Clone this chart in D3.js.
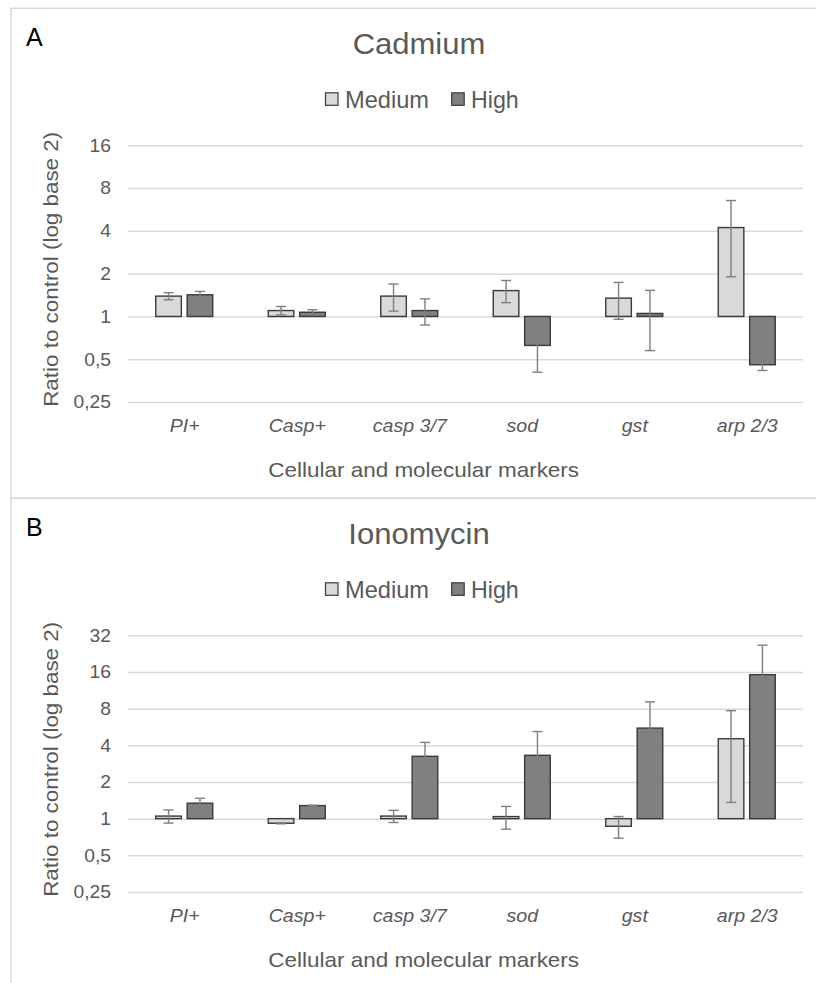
<!DOCTYPE html>
<html>
<head>
<meta charset="utf-8">
<script src="https://cdn.jsdelivr.net/npm/d3@7"></script>
<style>
  html, body { margin: 0; padding: 0; background: #fff; }
  svg { display: block; }
  text { font-family: "Liberation Sans", Arial, sans-serif; }
</style>
</head>
<body>
<svg id="chart" width="816" height="983"></svg>
<script>
// ---- data ----
const categories = ["PI+", "Casp+", "casp 3/7", "sod", "gst", "arp 2/3"];
const seriesNames = ["Medium", "High"];

const cadmiumMedium    = [1.39, 1.10, 1.39, 1.52, 1.345, 4.22];
const cadmiumMediumErr = [0.08, 0.075, 0.30, 0.27, 0.39, 2.32];
const cadmiumHigh      = [1.42, 1.07, 1.10, 0.625, 1.05, 0.457];
const cadmiumHighErr   = [0.08, 0.045, 0.23, 0.22, 0.475, 0.04];

const ionomycinMedium    = [1.05, 0.917, 1.05, 1.04, 0.866, 4.53];
const ionomycinMediumErr = [0.13, 0.01, 0.12, 0.22, 0.175, 3.17];
const ionomycinHigh      = [1.34, 1.28, 3.25, 3.31, 5.54, 15.2];
const ionomycinHighErr   = [0.13, 0.01, 0.975, 1.88, 3.56, 11.35];

const cadmiumTicks   = [0.25, 0.5, 1, 2, 4, 8, 16];
const ionomycinTicks = [0.25, 0.5, 1, 2, 4, 8, 16, 32];

const panels = [
  { letter: "A", title: "Cadmium", med: cadmiumMedium, medErr: cadmiumMediumErr,
    high: cadmiumHigh, highErr: cadmiumHighErr, ticks: cadmiumTicks },
  { letter: "B", title: "Ionomycin", med: ionomycinMedium, medErr: ionomycinMediumErr,
    high: ionomycinHigh, highErr: ionomycinHighErr, ticks: ionomycinTicks }
];

// ---- layout ----
const svg = d3.select("#chart");
const panelH = 490;
const panelTop = 8.3;
const plotLeft = 128, plotRight = 803;
const plotTopRel = 137, plotBotRel = 393.7;
const textGrey = "#595959";
const fills = { Medium: "#d9d9d9", High: "#808080" };

function fmtTick(v) { return String(v).replace(".", ","); }

function addText(g, x, y, str, o) {
  const t = g.append("text")
    .attr("x", 0).attr("y", 0)
    .attr("font-size", o.size)
    .attr("fill", o.color || textGrey)
    .attr("text-anchor", o.anchor || "start")
    .text(str);
  if (o.italic) t.attr("font-style", "italic");
  if (o.len) t.attr("textLength", o.len).attr("lengthAdjust", "spacingAndGlyphs");
  let tr = `translate(${x},${y})`;
  if (o.rotate) tr += ` rotate(${o.rotate})`;
  if (o.sx) tr += ` scale(${o.sx},1)`;
  t.attr("transform", tr);
  return t;
}

panels.forEach((p, i) => {
  const top = panelTop + i * panelH;
  const g = svg.append("g");

  // panel frame
  g.append("rect")
    .attr("x", 11).attr("y", top)
    .attr("width", 820).attr("height", panelH)
    .attr("fill", "none").attr("stroke", "#d9d9d9").attr("stroke-width", 1.5);

  const y = d3.scaleLog().base(2)
    .domain([p.ticks[0], p.ticks[p.ticks.length - 1]])
    .range([top + plotBotRel, top + plotTopRel]);
  const x0 = d3.scaleBand().domain(categories).range([plotLeft, plotRight]);
  const bw = x0.bandwidth();
  const x1 = d3.scaleBand().domain(seriesNames)
    .range([bw / 2 - 28.5, bw / 2 + 28.5]).paddingInner(0.185);

  // gridlines via axis
  const yAxis = d3.axisLeft(y).tickValues(p.ticks)
    .tickSize(-(plotRight - plotLeft)).tickFormat("");
  const ga = g.append("g").attr("transform", `translate(${plotLeft},0)`).call(yAxis);
  ga.select(".domain").remove();
  ga.selectAll(".tick line").attr("stroke", "#d9d9d9").attr("stroke-width", 1.5);

  // tick labels
  p.ticks.forEach(v => {
    addText(g, 111, y(v) + 6.3, fmtTick(v), { size: 17.5, anchor: "end", sx: 1.1 });
  });

  const seriesData = [
    { name: "Medium", vals: p.med, errs: p.medErr },
    { name: "High", vals: p.high, errs: p.highErr }
  ];
  // bars (from the axis crossing at 1)
  seriesData.forEach(s => {
    const gs = g.append("g");
    s.vals.forEach((v, k) => {
      const bx = x0(categories[k]) + x1(s.name);
      const y1 = y(1), yv = y(v);
      gs.append("rect")
        .attr("x", bx).attr("y", Math.min(y1, yv))
        .attr("width", x1.bandwidth()).attr("height", Math.abs(y1 - yv))
        .attr("fill", fills[s.name]).attr("stroke", "#3a3a3a").attr("stroke-width", 1.4);
    });
  });
  // error bars
  seriesData.forEach(s => {
    const ge = g.append("g").attr("stroke", "#7f7f7f").attr("stroke-width", 1.4);
    s.vals.forEach((v, k) => {
      const cx = x0(categories[k]) + x1(s.name) + x1.bandwidth() / 2;
      const yt = y(v + s.errs[k]), yb = y(v - s.errs[k]);
      ge.append("line").attr("x1", cx).attr("x2", cx).attr("y1", yt).attr("y2", yb);
      ge.append("line").attr("x1", cx - 5).attr("x2", cx + 5).attr("y1", yt).attr("y2", yt);
      ge.append("line").attr("x1", cx - 5).attr("x2", cx + 5).attr("y1", yb).attr("y2", yb);
    });
  });

  // category labels
  categories.forEach(c => {
    addText(g, x0(c) + bw / 2 + 0.5, top + 423.7, c, { size: 17.5, anchor: "middle", italic: true, sx: 1.12 });
  });

  // panel letter
  addText(g, 26, top + 37.7, p.letter, { size: 25, color: "#000" });
  // title
  addText(g, 419, top + 46, p.title, { size: 29, anchor: "middle", sx: 1.07 });

  // legend
  const ly = top + 84.5;
  g.append("rect").attr("x", 325.5).attr("y", ly).attr("width", 12.5).attr("height", 12.5)
    .attr("fill", fills.Medium).attr("stroke", "#3a3a3a").attr("stroke-width", 1.2);
  addText(g, 345, top + 99.4, "Medium", { size: 24, len: 84 });
  g.append("rect").attr("x", 451.7).attr("y", ly).attr("width", 12.5).attr("height", 12.5)
    .attr("fill", fills.High).attr("stroke", "#3a3a3a").attr("stroke-width", 1.2);
  addText(g, 471, top + 99.4, "High", { size: 24, len: 47.7 });

  // axis titles
  addText(g, 423.7, top + 468.4, "Cellular and molecular markers", { size: 21, anchor: "middle", len: 310.7 });
  addText(g, 58, top + 261, "Ratio to control (log base 2)", { size: 20.5, anchor: "middle", rotate: -90, len: 275 });
});
</script>
</body>
</html>
